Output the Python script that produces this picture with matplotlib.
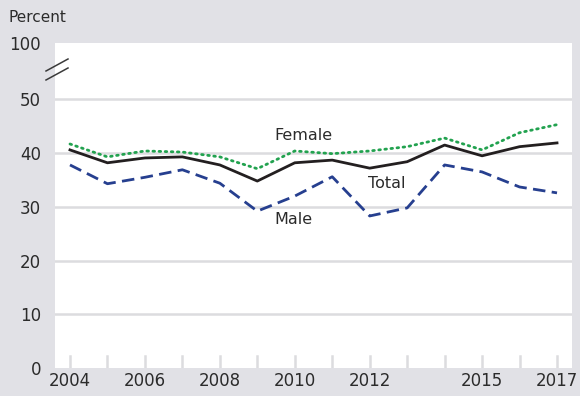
import matplotlib.pyplot as plt
import numpy as np
from matplotlib.lines import Line2D

years = np.arange(2004, 2018)
total = [40.6, 38.2, 39.1, 39.3, 37.8, 34.8, 38.2, 38.7, 37.2, 38.4, 41.5, 39.5, 41.2, 41.9]
female = [41.7, 39.3, 40.4, 40.2, 39.3, 37.1, 40.4, 39.9, 40.4, 41.2, 42.8, 40.6, 43.8, 45.3]
male = [37.8, 34.3, 35.5, 36.9, 34.4, 29.2, 32.0, 35.6, 28.3, 29.8, 37.8, 36.5, 33.7, 32.6]

year_labels = [2004, 2006, 2008, 2010, 2012, 2015, 2017]
y_ticks = [0, 10, 20, 30, 40, 50]
y_top = 60.5  # compressed span above the axis break, labelled 100

bg = '#e1e1e6'
grid_c = '#dcdcdf'
text_c = '#2b2b2b'

plt.rcParams['font.family'] = ['DejaVu Sans']

fig = plt.figure(figsize=(5.8, 3.96), dpi=100, facecolor=bg)
ax = fig.add_axes([55 / 580, 1 - 368 / 396, 517 / 580, 325 / 396])
ax.set_facecolor('white')

for v in y_ticks[1:]:
    ax.axhline(v, color=grid_c, lw=1.8, zorder=1)

ax.plot(years, female, color='#22a24f', lw=2.0, ls=(0, (0.6, 1.6)), dash_capstyle='round', zorder=3)
ax.plot(years, total, color='#231f20', lw=2.0, zorder=4)
ax.plot(years, male, color='#263f8f', lw=2.0, ls=(0, (4.5, 2.3)), zorder=3)

ax.text(2009.45, 43.2, 'Female', fontsize=11.5, color=text_c, ha='left', va='center')
ax.text(2011.95, 34.4, 'Total', fontsize=11.5, color=text_c, ha='left', va='center')
ax.text(2009.45, 27.7, 'Male', fontsize=11.5, color=text_c, ha='left', va='center')

ax.set_xlim(2003.6, 2017.4)
ax.set_ylim(0, y_top)

# year ticks drawn as short gray marks rising from the baseline
for yr in years:
    ax.plot([yr, yr], [0, 2.2], color=grid_c, lw=1.8, zorder=2)
ax.set_xticks(year_labels)
ax.set_xticklabels([str(y) for y in year_labels])
ax.tick_params(axis='x', length=0, pad=3, labelsize=12, labelcolor=text_c)

ax.set_yticks(y_ticks + [y_top])
ax.set_yticklabels([str(v) for v in y_ticks] + ['100'])
ax.tick_params(axis='y', length=0, pad=10, labelsize=12, labelcolor=text_c)

for s in ax.spines.values():
    s.set_visible(False)

# axis break marks
for dy in (0, 9):
    fig.add_artist(Line2D([46 / 580, 68 / 580], [1 - (71 + dy) / 396, 1 - (59 + dy) / 396],
                          color='#3a3a3a', lw=1.1))

fig.text(8 / 580, 1 - 18 / 396, 'Percent', fontsize=11, color=text_c, ha='left', va='center')

fig.savefig('out.png', dpi=100, facecolor=bg)
